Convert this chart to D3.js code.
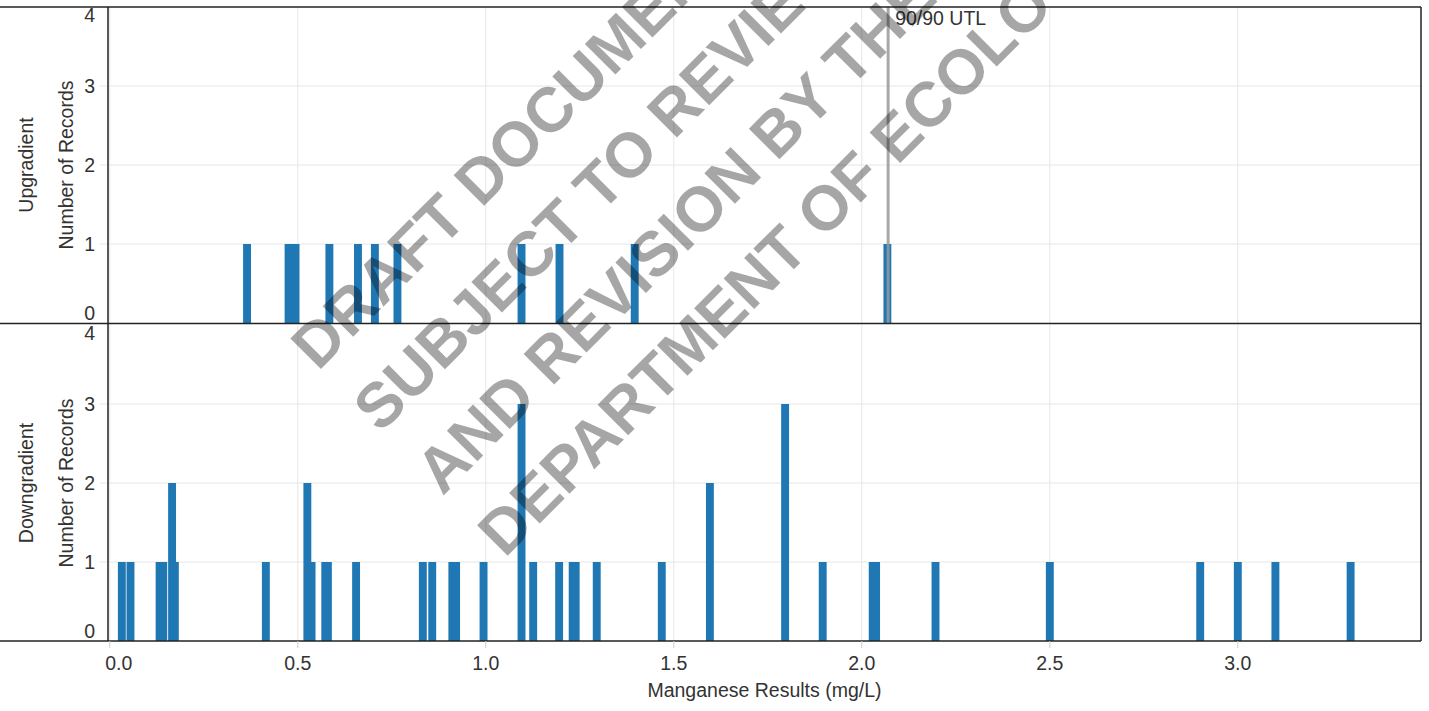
<!DOCTYPE html>
<html><head><meta charset="utf-8">
<script src="https://cdn.jsdelivr.net/npm/d3@7"></script>
<style>
body{margin:0;background:#fff}
svg{display:block}
text{font-family:"Liberation Sans",Arial,sans-serif}
</style>
</head><body>
<svg id="c" width="1429" height="711"></svg>
<script>
// ---- data ----
const upValues   = [0.365,0.4754,0.494,0.584,0.660,0.705,0.765,1.095,1.196,1.396,2.068];
const upCounts   = [1,1,1,1,1,1,1,1,1,1,1];
const downValues = [0.032,0.055,0.1324,0.1422,0.1656,0.173,0.415,0.5254,0.5366,0.573,0.580,0.655,
                    0.8325,0.8575,0.911,0.921,0.994,1.095,1.126,1.195,1.231,1.239,1.295,1.468,
                    1.596,1.796,1.896,2.029,2.038,2.196,2.5,2.9,3.0,3.1,3.3];
const downCounts = [1,1,1,1,2,1,1,2,1,1,1,1,
                    1,1,1,1,1,3,1,1,1,1,1,1,
                    2,3,1,1,1,1,1,1,1,1,1];
const xTicks = [0,0.5,1.0,1.5,2.0,2.5,3.0];
const xTickLabels = ["0.0","0.5","1.0","1.5","2.0","2.5","3.0"];
const yTicks = [0,1,2,3,4];
const yTickLabels = ["0","1","2","3","4"];
const utlValue = 2.07;
const utlLabel = "90/90 UTL";
const panelNames = ["Upgradient","Downgradient"];
const yTitle = "Number of Records";
const xTitle = "Manganese Results (mg/L)";
const barWidth = 0.021;
const watermarkLines = ["DRAFT DOCUMENT","SUBJECT TO REVIEW","AND REVISION BY THE","DEPARTMENT OF ECOLOGY"];

// ---- layout ----
const svg = d3.select("#c");
const L = 108, R = 1421;
const FS = 19.5;
const panels = [
  {name: panelNames[0], top: 7,   bottom: 323, values: upValues,   counts: upCounts},
  {name: panelNames[1], top: 325, bottom: 641, values: downValues, counts: downCounts}
];
const x = d3.scaleLinear().domain([-0.0048, 3.4872]).range([L, R]);
const barColor = "#1f77b4";

panels.forEach((p, pi) => {
  const y = d3.scaleLinear().domain([0, 4]).range([p.bottom, p.top]);
  const g = svg.append("g");
  g.selectAll(".vg").data(xTicks).join("line")
    .attr("x1", d => x(d)).attr("x2", d => x(d))
    .attr("y1", p.top).attr("y2", p.bottom)
    .attr("stroke", "#e6e6e6").attr("stroke-width", 1);
  g.selectAll(".hg").data(yTicks.filter(d => d > 0 && d < 4)).join("line")
    .attr("x1", L - 8).attr("x2", R)
    .attr("y1", d => y(d)).attr("y2", d => y(d))
    .attr("stroke", "#e6e6e6").attr("stroke-width", 1);
  const data = p.values.map((v, i) => ({v, c: p.counts[i]}));
  g.selectAll(".bar").data(data).join("rect")
    .attr("x", d => x(d.v - barWidth / 2))
    .attr("width", d => x(d.v + barWidth / 2) - x(d.v - barWidth / 2))
    .attr("y", d => y(d.c))
    .attr("height", d => y(0) - y(d.c))
    .attr("fill", barColor);
  if (pi === 0) {
    g.append("line")
      .attr("x1", x(utlValue)).attr("x2", x(utlValue))
      .attr("y1", p.top).attr("y2", p.bottom)
      .attr("stroke", "#999").attr("stroke-opacity", 0.85).attr("stroke-width", 3);
    g.append("text").attr("x", x(utlValue) + 7).attr("y", p.top + 18)
      .attr("font-size", FS).attr("fill", "#333").text(utlLabel);
  }
  g.selectAll(".yl").data(yTicks).join("text")
    .attr("x", 95)
    .attr("y", d => d === 0 ? y(d) - 3 : (d === 4 ? y(d) + 15 : y(d) + 7))
    .attr("text-anchor", "end").attr("font-size", FS).attr("fill", "#333")
    .text((d, i) => yTickLabels[i]);
  const cy = (p.top + p.bottom) / 2;
  g.append("text").attr("transform", `translate(33,${cy}) rotate(-90)`)
    .attr("text-anchor", "middle").attr("font-size", FS).attr("fill", "#333").text(p.name);
  g.append("text").attr("transform", `translate(73,${cy}) rotate(-90)`)
    .attr("text-anchor", "middle").attr("font-size", FS).attr("fill", "#333").text(yTitle);
});

const frame = svg.append("g").attr("stroke", "#222").attr("stroke-width", 1.5);
[7, 323.5, 641].forEach(yy => frame.append("line").attr("x1", 0).attr("x2", R).attr("y1", yy).attr("y2", yy));
frame.append("line").attr("x1", L).attr("x2", L).attr("y1", 7).attr("y2", 641);
frame.append("line").attr("x1", R).attr("x2", R).attr("y1", 7).attr("y2", 641);

const xa = svg.append("g");
xa.selectAll("line").data(xTicks).join("line")
  .attr("x1", d => x(d)).attr("x2", d => x(d)).attr("y1", 641).attr("y2", 648)
  .attr("stroke", "#ccc");
xa.selectAll("text").data(xTicks).join("text")
  .attr("x", (d, i) => i === 0 ? x(d) + 9 : x(d)).attr("y", 670)
  .attr("text-anchor", "middle").attr("font-size", FS).attr("fill", "#333")
  .text((d, i) => xTickLabels[i]);
svg.append("text").attr("x", (L + R) / 2).attr("y", 697)
  .attr("text-anchor", "middle").attr("font-size", FS).attr("fill", "#333").text(xTitle);

// watermark
const wmAngle = -45, wmStep = 88, wmStart = [318, 372];
const rad = -wmAngle * Math.PI / 180;
const nx = Math.sin(rad), ny = Math.cos(rad);
const wm = svg.append("g");
watermarkLines.forEach((t, i) => {
  const sx = wmStart[0] + i * wmStep * nx, sy = wmStart[1] + i * wmStep * ny;
  wm.append("text")
    .attr("transform", `translate(${sx},${sy}) rotate(${wmAngle})`)
    .attr("font-family", "'Open Sans',sans-serif").attr("font-weight", 700)
    .attr("font-size", 63).attr("fill", "rgba(0,0,0,0.35)").text(t);
});
</script>
</body></html>
